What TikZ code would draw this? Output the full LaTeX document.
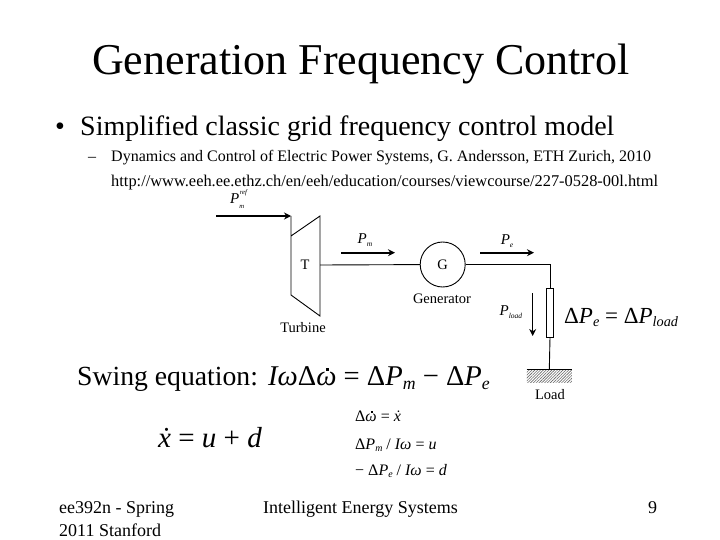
\documentclass[tikz,border=0pt]{standalone}
\usepackage{fontspec}
\setmainfont{Liberation Serif}
\usetikzlibrary{patterns.meta,arrows.meta}
\newcommand{\Pwr}[1]{\textit{P}\raisebox{-0.45ex}{\scalebox{0.5}{\textit{#1}}}}
\newcommand{\Pref}{\textit{P}\raisebox{-0.75ex}{\scalebox{0.45}{\textit{m}}}\kern-0.3em\raisebox{1.25ex}{\scalebox{0.45}{\textit{ref}}}}
\newcommand{\Psub}[1]{\textit{P}\raisebox{-0.35ex}{\scalebox{0.62}{\textit{#1}}}}
\newcommand{\dotw}{\textit{ω}\llap{\makebox[0.62em]{\raisebox{1.1ex}{\rule{0.1em}{0.1em}}}}}
\begin{document}
\begin{tikzpicture}[x=1pt,y=1pt,
      slidetext/.style={
        % The text:
        anchor=base west,inner sep=0pt},
      lbl/.style={font=\fontsize{14.5}{15}\selectfont,inner sep=0pt},
      plbl/.style={font=\fontsize{15}{16}\selectfont,inner sep=0pt},
      eqn/.style={slidetext,font=\fontsize{28.6}{30}\selectfont},
      eqsmall/.style={slidetext,font=\fontsize{16}{18}\selectfont},
      foot/.style={slidetext,font=\fontsize{18}{21}\selectfont},
      wire/.style={line width=0.9pt},
      flow/.style={line width=1.6pt,-{Stealth[length=7pt,width=7pt]}}]
    \useasboundingbox (0,0) rectangle (720,-540);
    \node(title)[slidetext,font=\fontsize{44}{48}\selectfont] at (92,-75){Generation Frequency Control};
    \node(bullet)[slidetext,font=\fontsize{28}{32}\selectfont] at (55,-136){•};
    \node(main)[slidetext,font=\fontsize{28}{32}\selectfont] at (80,-136){Simplified classic grid frequency control model};
    \node(dash)[slidetext,font=\fontsize{16}{18}\selectfont] at (88,-162){–};
    \node(ref1)[slidetext,font=\fontsize{16}{18}\selectfont] at (111,-162){Dynamics and Control of Electric Power Systems, G. Andersson, ETH Zurich, 2010};
    \node(ref2)[slidetext,font=\fontsize{16.4}{18}\selectfont] at (111,-187){http://www.eeh.ee.ethz.ch/en/eeh/education/courses/viewcourse/227-0528-00l.html};
    % The turbine:
    \coordinate(tlt) at (291,-216);
    \coordinate(tla) at (291,-236);
    \coordinate(tlb) at (291,-295);
    \coordinate(trt) at (320,-216);
    \coordinate(trb) at (320,-316);
    \coordinate(shaft) at (320,-265);
    \draw[wire] (tlt) -- (tlb) -- (trb) -- (trt) -- (tla);
    \node(t)[lbl] at (305,-265){T};
    \node(turb)[lbl] at (303,-328){Turbine};
    % The generator and load:
    \node(gen)[circle,draw,line width=0.9pt,minimum size=45pt,inner sep=0pt,font=\fontsize{14.5}{15}\selectfont] at (442.7,-264.5){G};
    \node(genl)[lbl] at (442,-299){Generator};
    \node(res)[rectangle,draw,line width=0.9pt,minimum width=7.4pt,minimum height=49pt,inner sep=0pt] at (550,-312.5){};
    \node(gnd)[pattern={Lines[angle=45,distance=2pt,line width=0.6pt]},pattern color=black!60,minimum width=45pt,minimum height=12pt,inner sep=0pt] at (549.3,-376){};
    \node(load)[lbl] at (550,-395){Load};
    \draw[wire] (shaft) -- (gen);
    \draw[wire] (gen.east) -| (res.north);
    \draw[wire] (res.south) -- (gnd.north);
    \draw[wire] (gnd.north west) -- (gnd.north east);
    % The power flows:
    \coordinate(pra) at (216,-216);
    \coordinate(pma) at (341,-252.7);
    \coordinate(pmb) at (395,-252.7);
    \coordinate(pea) at (480,-252.7);
    \coordinate(peb) at (534,-252.7);
    \coordinate(pla) at (532.7,-293);
    \coordinate(plb) at (532.7,-336);
    \draw[flow] (pra) -- (tlt);
    \draw[flow] (pma) -- (pmb);
    \draw[flow] (pea) -- (peb);
    \draw[flow,line width=0.9pt] (pla) -- (plb);
    \node(pref)[plbl] at (239,-199){\Pref};
    \node(pm)[plbl] at (365,-240){\Pwr{m}};
    \node(pe)[plbl] at (507,-241){\Pwr{e}};
    \node(pl)[plbl] at (511,-312){\Pwr{load}};
    \node(dpe)[slidetext,font=\fontsize{23}{26}\selectfont] at (564,-323){Δ\Psub{e} = Δ\Psub{load}};
    % The equations:
    \node(swing)[slidetext,font=\fontsize{27.7}{32}\selectfont] at (77,-385){Swing equation:};
    \node(sweq)[eqn] at (268,-385){\textit{Iω}Δ\dotw{} = Δ\Psub{m} − Δ\Psub{e}};
    \node(xeq)[eqn,font=\fontsize{29}{32}\selectfont] at (158,-447){\textit{\.{x}} = \textit{u} + \textit{d}};
    \node(eq1)[eqsmall] at (355,-421){Δ\dotw{} = \textit{\.{x}}};
    \node(eq2)[eqsmall] at (355,-449){Δ\Psub{m} / \textit{Iω} = \textit{u}};
    \node(eq3)[eqsmall] at (355,-475){− Δ\Psub{e} / \textit{Iω} = \textit{d}};
    % The footer:
    \node(fa)[foot] at (59,-513){ee392n - Spring};
    \node(fb)[foot] at (59,-536){2011 Stanford};
    \node(fc)[foot] at (263,-513){Intelligent Energy Systems};
    \node(num)[foot] at (648,-513){9};
  \end{tikzpicture}
\end{document}
